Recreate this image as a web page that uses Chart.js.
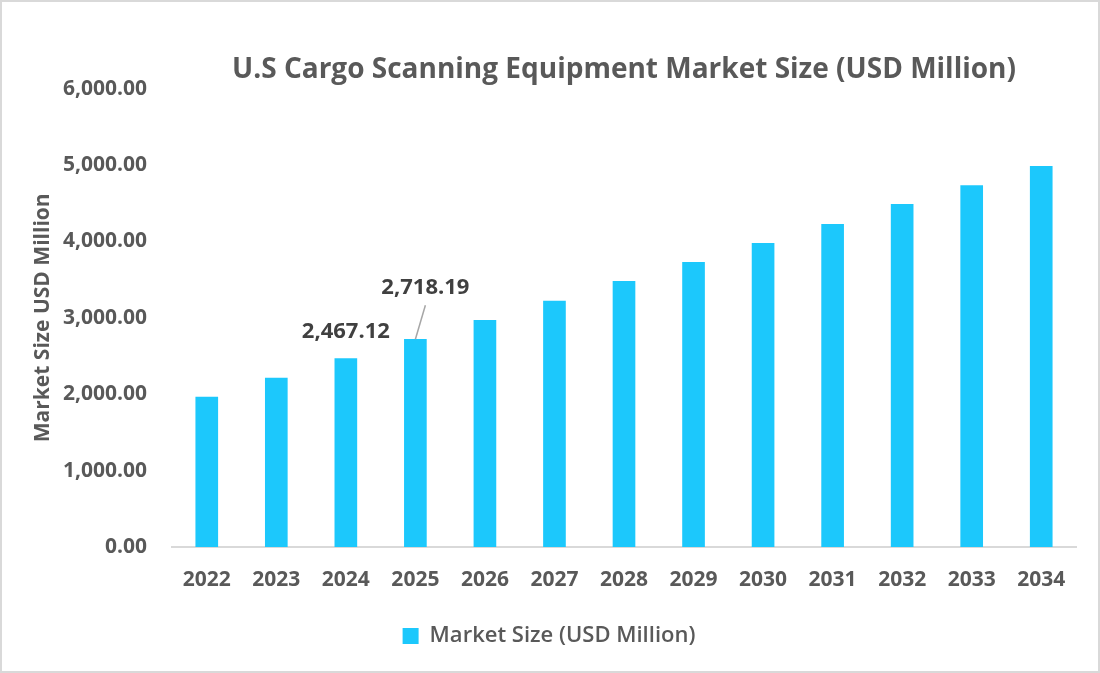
<!DOCTYPE html>
<html>
<head>
<meta charset="utf-8">
<script src="https://cdn.jsdelivr.net/npm/chart.js@4/dist/chart.umd.min.js"></script>
<style>
  html, body { margin: 0; padding: 0; background: #fff; }
  #wrap { width: 1100px; height: 673px; position: relative; }
</style>
</head>
<body>
<div id="wrap"><canvas id="myChart"></canvas></div>
<script>
// data
const years = ['2022', '2023', '2024', '2025', '2026', '2027', '2028',
    '2029', '2030', '2031', '2032', '2033', '2034'];
const marketSize = [1962, 2210, 2467.12, 2718.19, 2968, 3218, 3478,
    3726, 3975, 4223, 4484, 4732, 4981];
const labelledYears = ['2024', '2025'];
const yTicks = [0, 1000, 2000, 3000, 4000, 5000, 6000];

const FONT = "'Open Sans', 'Noto Sans', sans-serif";
const fmt = v => v.toLocaleString('en-US', { minimumFractionDigits: 2, maximumFractionDigits: 2 });

// white background + light frame
const frame = {
    id: 'frame',
    beforeDraw(chart) {
        const ctx = chart.ctx;
        ctx.save();
        ctx.fillStyle = '#fff';
        ctx.fillRect(0, 0, chart.width, chart.height);
        ctx.restore();
    },
    afterDraw(chart) {
        const ctx = chart.ctx;
        ctx.save();
        ctx.strokeStyle = '#d9d9d9';
        ctx.lineWidth = 2;
        ctx.strokeRect(1, 1, chart.width - 2, chart.height - 2);
        ctx.restore();
    }
};

// value labels for 2024 and 2025 (2025 one has a leader line)
const valueLabels = {
    id: 'valueLabels',
    afterDatasetsDraw(chart) {
        const ctx = chart.ctx;
        const meta = chart.getDatasetMeta(0);
        ctx.save();
        ctx.font = 'bold 22px ' + FONT;
        ctx.fillStyle = '#404040';
        ctx.textAlign = 'center';
        ctx.textBaseline = 'middle';
        labelledYears.forEach((yr, n) => {
            const i = years.indexOf(yr);
            const bar = meta.data[i];
            const text = fmt(marketSize[i]);
            if (n === 0) {
                ctx.fillText(text, bar.x, bar.y - 27);
            } else {
                ctx.fillText(text, bar.x + 10, bar.y - 52);
                ctx.strokeStyle = '#a6a6a6';
                ctx.lineWidth = 1.5;
                ctx.beginPath();
                ctx.moveTo(bar.x + 10, bar.y - 34);
                ctx.lineTo(bar.x, bar.y);
                ctx.stroke();
            }
        });
        ctx.restore();
    }
};

const data = {
    labels: years,
    datasets: [{
        label: 'Market Size (USD Million)',
        backgroundColor: '#1cc8fc',
        borderWidth: 0,
        barThickness: 22,
        data: marketSize,
    }]
};

const config = {
    type: 'bar',
    data: data,
    plugins: [frame, valueLabels],
    options: {
        responsive: true,
        maintainAspectRatio: false,
        animation: false,
        layout: { padding: { left: 22, right: 24, top: 0, bottom: 16 } },
        plugins: {
            title: {
                display: true,
                text: 'U.S Cargo Scanning Equipment Market Size (USD Million)',
                fullSize: false,
                color: '#595959',
                font: { family: FONT, size: 28, weight: 'bold' },
                padding: { top: 53, bottom: 2 }
            },
            legend: {
                position: 'bottom',
                labels: {
                    color: '#595959',
                    font: { family: FONT, size: 22, weight: '600' },
                    boxWidth: 16,
                    boxHeight: 16,
                    padding: 10
                }
            },
            tooltip: { enabled: false }
        },
        scales: {
            x: {
                grid: { display: false, drawTicks: false },
                border: { display: true, color: '#d9d9d9', width: 2 },
                ticks: {
                    color: '#595959',
                    font: { family: FONT, size: 21, weight: 'bold' },
                    padding: 20,
                    maxRotation: 0
                },
                afterFit(scale) { scale.height = 68; }
            },
            y: {
                min: 0,
                max: 6000,
                grid: { display: false, drawTicks: false },
                border: { display: false },
                afterBuildTicks(scale) { scale.ticks = yTicks.map(v => ({ value: v })); },
                ticks: {
                    color: '#595959',
                    font: { family: FONT, size: 21, weight: 'bold' },
                    padding: 25,
                    callback: v => fmt(v)
                },
                title: {
                    display: true,
                    text: 'Market Size USD Million',
                    color: '#595959',
                    font: { family: FONT, size: 21, weight: 'bold' },
                    padding: { top: 8, bottom: 0 }
                },
                afterFit(scale) { scale.width = 150; }
            }
        }
    }
};

const myChart = new Chart(document.getElementById('myChart'), config);
</script>
</body>
</html>
